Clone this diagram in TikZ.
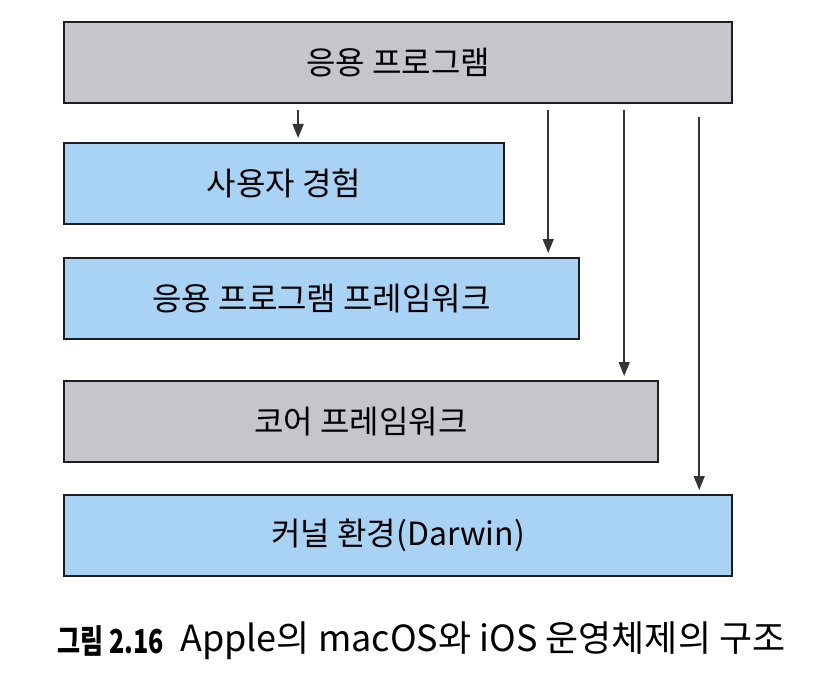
\documentclass[tikz,border=0pt]{standalone}
\usepackage{fontspec}
\setmainfont{Noto Sans CJK KR}
\newfontfamily\capnumfont[FakeStretch=0.76]{Noto Sans CJK KR}
\usepackage{xcolor}
\usepackage{tikz}
\usetikzlibrary{calc,positioning,arrows.meta}
\definecolor{layergray}{HTML}{C6C5CB}
\definecolor{layerblue}{HTML}{A9D3F5}
\definecolor{layerline}{HTML}{1E1E22}

\begin{document}
\begin{tikzpicture}[x=1pt, y=-1pt,
  graybox/.style={fill=layergray, draw=layerline, line width=2.2pt, anchor=north west, minimum height=81pt, inner sep=0pt, font=\fontsize{32}{38}\selectfont},
  bluebox/.style={graybox, fill=layerblue},
  flow/.style={draw=layerline!90, line width=1.5pt, -{Triangle[length=14pt, width=11pt]}, shorten <=6pt, shorten >=4pt},
  capnode/.style={anchor=west, inner sep=0pt, font=\fontsize{36}{42}\selectfont}
]
  \useasboundingbox (0,0) rectangle (826,676);
  \node[graybox, minimum width=668pt] (app) at (63,21) {응용 프로그램};
  \node[bluebox, minimum width=440pt] (ux) at (63,142) {사용자 경험};
  \node[bluebox, minimum width=515pt] (appfw) at (63,257) {응용 프로그램 프레임워크};
  \node[graybox, minimum width=594pt] (core) at (63,380) {코어 프레임워크};
  \node[bluebox, minimum width=668pt] (kernel) at (63,494) {커널 환경(Darwin)};
  % arrows from the top layer
  \draw[flow] (app.south -| {$(ux.north)+(14,0)$}) -- ([xshift=14pt]ux.north);
  \draw[flow] (app.south -| {$(appfw.north east)+(-32,0)$}) -- ([xshift=-32pt]appfw.north east);
  \draw[flow] (app.south -| {$(core.north east)+(-35,0)$}) -- ([xshift=-35pt]core.north east);
  \draw[flow, shorten <=13pt] (app.south -| {$(kernel.north east)+(-34,0)$}) -- ([xshift=-34pt]kernel.north east);
  % caption
  \node[capnode, font=\capnumfont\fontsize{33}{40}\selectfont\bfseries] (capnum) at (57,641) {그림 2.16};
  \node[capnode] (captext) at (180,641) {Apple의 macOS와 iOS 운영체제의 구조};
\end{tikzpicture}
\end{document}
